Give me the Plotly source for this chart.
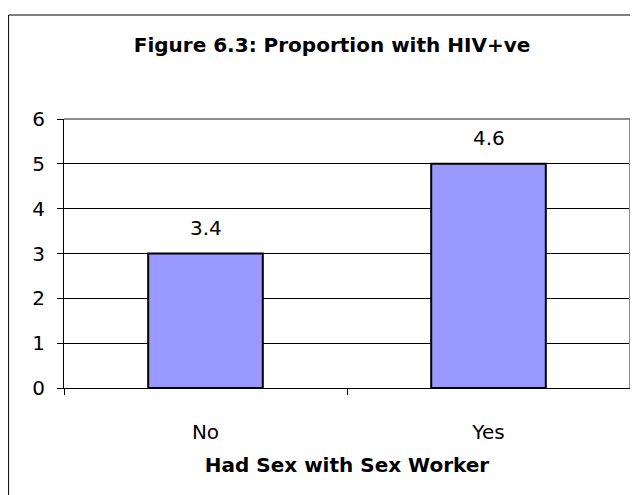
import plotly.graph_objects as go

# chart values
categories = ["No", "Yes"]
bar_heights = [3, 5]          # drawn bar tops
bar_labels = ["3.4", "4.6"]   # printed value labels
y_ticks = [0, 1, 2, 3, 4, 5, 6]

title_text = "Figure 6.3: Proportion with HIV+ve"
x_title = "Had Sex with Sex Worker"

FONT = "DejaVu Sans"
W, H = 630, 487   # page adds an 8px body margin

fig = go.Figure()

fig.add_trace(go.Bar(
    x=categories, y=bar_heights, width=0.405,
    marker=dict(color="#9999FF", line=dict(color="black", width=2)),
    hoverinfo="skip", showlegend=False,
))

# value labels above bars
for cat, h, lab in zip(categories, bar_heights, bar_labels):
    fig.add_annotation(x=cat, y=h, text=lab, showarrow=False,
                       yshift=26, yanchor="middle",
                       font=dict(family=FONT, size=20, color="black"))

# outer chart frame (extends past the picture right and bottom)
fig.add_shape(type="rect", xref="paper", yref="paper",
              x0=(0.6 - 56) / 566, y0=-1.0, x1=1.5, y1=1.3866,
              line=dict(color="black", width=1), layer="below")

# grey plot-area border, top and right
fig.add_shape(type="path", xref="paper", yref="paper",
              path="M 0,1 L 1,1 L 1,0",
              line=dict(color="#8c8c8c", width=2), layer="above")

fig.update_layout(
    width=W, height=H,
    margin=dict(l=56, r=8, t=111, b=107),
    paper_bgcolor="white", plot_bgcolor="white",
    font=dict(family=FONT, color="black"),
    title=dict(text="<b>" + title_text + "</b>", x=324 / W, xanchor="center",
               y=1 - 37 / H, yanchor="middle",
               font=dict(family=FONT, size=20, color="black")),
    xaxis=dict(
        type="category", tickson="boundaries",
        ticks="outside", ticklen=6, tickcolor="black",
        showline=True, linecolor="black", linewidth=1,
        showgrid=False, tickfont=dict(family=FONT, size=20),
        ticklabelstandoff=26,
        title=dict(text="<b>" + x_title + "</b>", standoff=14,
                   font=dict(family=FONT, size=20)),
    ),
    yaxis=dict(
        range=[0, 6], tickvals=y_ticks,
        ticks="outside", ticklen=6, tickcolor="black",
        showline=True, linecolor="black", linewidth=1,
        showgrid=True, gridcolor="black", gridwidth=1,
        zeroline=False, tickfont=dict(family=FONT, size=20),
        ticklabelstandoff=8,
    ),
    showlegend=False,
)

fig.write_html("out.html")
